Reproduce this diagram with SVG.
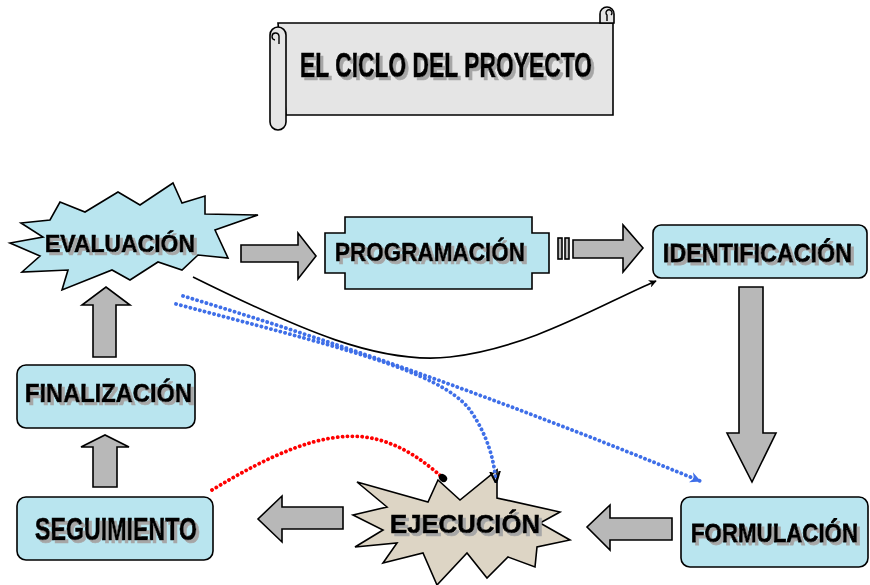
<svg xmlns="http://www.w3.org/2000/svg" width="870" height="585" viewBox="0 0 870 585">
<style>
  .node { fill: #b9e5ef; stroke: #000; stroke-width: 1.6; }
  .burst { fill: #ddd5c5; stroke: #000; stroke-width: 1.6; }
  .scroll { fill: #e5e5e5; stroke: #000; stroke-width: 1.6; }
  .blk { fill: #b8b8b8; stroke: #000; stroke-width: 1.6; stroke-linejoin: miter; }
  .lbl { font-family: "Liberation Sans", "DejaVu Sans", sans-serif; font-weight: bold; fill: #000; stroke: #000; stroke-width: 0.7; filter: url(#shadow); }
  .dotb { fill: none; stroke: #3f6fe8; stroke-width: 3.8; stroke-linecap: round; stroke-dasharray: 0.1 4.8; }
  .dotr { fill: none; stroke: #ff0000; stroke-width: 3.8; stroke-linecap: round; stroke-dasharray: 0.1 4.8; }
  .curve { fill: none; stroke: #000; stroke-width: 1.6; }
</style>
<defs>
  <filter id="shadow" x="-5%" y="-20%" width="115%" height="150%">
    <feOffset in="SourceAlpha" dx="2.5" dy="2.5" result="off"/>
    <feFlood flood-color="#a6a6a6"/>
    <feComposite in2="off" operator="in" result="sh"/>
    <feMerge>
      <feMergeNode in="sh"/>
      <feMergeNode in="SourceGraphic"/>
    </feMerge>
  </filter>
  <marker id="arrBlack" viewBox="0 0 10 10" refX="9" refY="5" markerWidth="8" markerHeight="8" orient="auto" markerUnits="userSpaceOnUse">
    <path d="M0,0 L10,5 L0,10 L3,5 Z" fill="#000"/>
  </marker>
  <marker id="arrBlue" viewBox="0 0 10 10" refX="9" refY="5" markerWidth="11" markerHeight="11" orient="auto" markerUnits="userSpaceOnUse">
    <path d="M0,0 L10,5 L0,10 L3,5 Z" fill="#3f6fe8"/>
  </marker>
  <marker id="arrOpen" viewBox="0 0 10 10" refX="9" refY="5" markerWidth="12" markerHeight="12" orient="auto" markerUnits="userSpaceOnUse">
    <path d="M0,1 L10,5 L0,9" fill="none" stroke="#000" stroke-width="1.8"/>
  </marker>
  <marker id="dotEnd" viewBox="0 0 10 10" refX="5" refY="5" markerWidth="9" markerHeight="9" orient="auto" markerUnits="userSpaceOnUse">
    <ellipse cx="5" cy="5" rx="5" ry="4" fill="#000"/>
  </marker>
</defs>

<g id="title">
  <path class="scroll" d="M278,23 H613 V115 H286 Z"/>
  <path class="scroll" d="M600,23 V14 A7,7 0 0 1 614,14 V23 Z"/>
  <path fill="none" stroke="#000" stroke-width="1.4" d="M607,21 V15 A3,3 0 1 1 611,15"/>
  <path class="scroll" d="M270,35 V122 A8,8 0 0 0 286,122 V35 A8,8 0 0 0 270,35 Z"/>
  <path fill="none" stroke="#000" stroke-width="1.4" d="M279,44 V36 A3.5,3.5 0 1 0 275,40"/>
  <text class="lbl" x="300" y="77" font-size="35" textLength="292" lengthAdjust="spacingAndGlyphs">EL CICLO DEL PROYECTO</text>
</g>

<g id="evaluacion">
  <path class="node" d="M21,223 L50,220 L60,202 L85,212 L118,192 L140,205 L173,183 L182,203 L205,196 L205,214 L258,215 L215,230 L228,258 L198,255 L182,270 L158,262 L130,280 L112,270 L62,290 L68,270 L22,272 L40,256 L10,243 L43,237 Z"/>
  <text class="lbl" x="45" y="252" font-size="24" textLength="150" lengthAdjust="spacingAndGlyphs">EVALUACIÓN</text>
</g>

<g id="programacion">
  <path class="node" d="M345,217 H532 V233 H549 V273 H532 V289 H345 V273 H325 V233 H345 Z"/>
  <text class="lbl" x="335" y="261" font-size="26" textLength="190" lengthAdjust="spacingAndGlyphs">PROGRAMACIÓN</text>
</g>

<g id="identificacion">
  <rect class="node" x="653" y="225" width="214" height="53" rx="8"/>
  <text class="lbl" transform="translate(663,262) scale(1,1.13)" x="0" y="0" font-size="23" textLength="189" lengthAdjust="spacingAndGlyphs">IDENTIFICACIÓN</text>
</g>

<g id="formulacion">
  <rect class="node" x="681" y="497" width="187" height="70" rx="9"/>
  <text class="lbl" transform="translate(691,542) scale(1,1.13)" x="0" y="0" font-size="23" textLength="167" lengthAdjust="spacingAndGlyphs">FORMULACIÓN</text>
</g>

<g id="ejecucion">
  <path class="burst" d="M357,482 L428,502 L438,480 L460,500 L497,470 L497,498 L560,512 L540,523 L570,540 L537,547 L535,567 L508,557 L487,578 L467,553 L437,585 L423,553 L383,563 L397,543 L355,547 L383,530 L353,515 L387,507 Z"/>
  <text class="lbl" x="390" y="533" font-size="25" textLength="150" lengthAdjust="spacingAndGlyphs">EJECUCIÓN</text>
</g>

<g id="seguimiento">
  <rect class="node" x="17" y="497" width="196" height="63" rx="9"/>
  <text class="lbl" x="35" y="540" font-size="31" textLength="162" lengthAdjust="spacingAndGlyphs">SEGUIMIENTO</text>
</g>

<g id="finalizacion">
  <rect class="node" x="17" y="365" width="178" height="63" rx="9"/>
  <text class="lbl" x="25" y="402" font-size="26" textLength="167" lengthAdjust="spacingAndGlyphs">FINALIZACIÓN</text>
</g>

<g id="connectors">
  <path class="blk" d="M241,245 H298 V233 L316,256 L298,279 V262 H241 Z"/>
  <rect class="blk" x="558" y="238" width="4" height="21"/>
  <rect class="blk" x="565" y="238" width="4" height="21"/>
  <path class="blk" d="M573,240 H623 V225 L643,248 L623,272 V258 H573 Z"/>
  <path class="blk" d="M739,287 H763 V433 H776 L752,482 L727,433 H739 Z"/>
  <path class="blk" d="M672,518 V540 H610 V550 L587,527 L610,505 V518 Z"/>
  <path class="blk" d="M343,507 V529 H282 V542 L258,519 L282,496 V507 Z"/>
  <path class="blk" d="M93,487 V447 H81 L105,435 L129,447 H117 V487 Z"/>
  <path class="blk" d="M93,357 V305 H82 L106,287 L130,305 H116 V357 Z"/>
  <path class="curve" marker-end="url(#arrBlack)" d="M193,277 C300,330 380,365 450,357 C530,348 600,305 656,281"/>
  <path class="dotb" marker-end="url(#arrBlue)" d="M183,296 Q430,370 700,481"/>
  <path class="dotb" marker-end="url(#arrOpen)" d="M176,304 C330,345 440,370 470,410 C488,436 494,460 496,482"/>
  <path class="dotr" marker-end="url(#dotEnd)" d="M212,490 C270,455 320,432 365,437 C400,442 425,462 443,478"/>
</g>
</svg>
